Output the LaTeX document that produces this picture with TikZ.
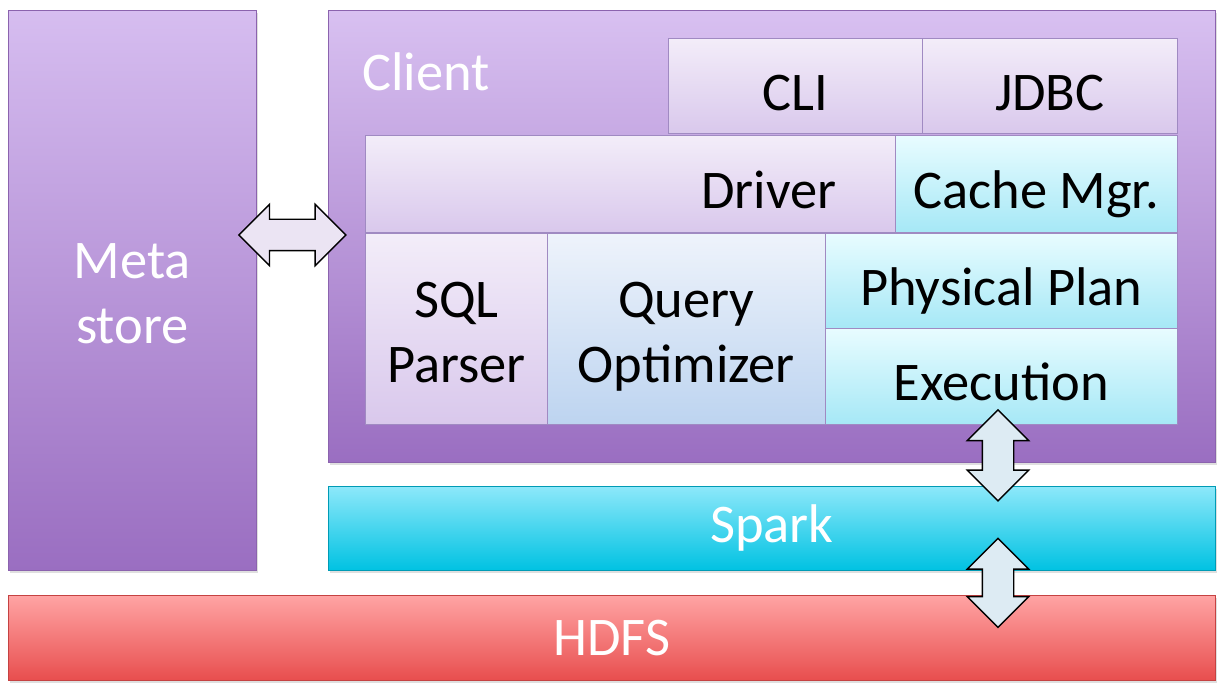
\documentclass[tikz,border=0pt]{standalone}
\usepackage{fontspec}
\setmainfont{Carlito}
\usetikzlibrary{positioning,calc,shapes.arrows,shadows}

\definecolor{metatop}{HTML}{D6BDF0}
\definecolor{metabot}{HTML}{9A6EC1}
\definecolor{clitop}{HTML}{F3EDF9}
\definecolor{clibot}{HTML}{D9C8EC}
\definecolor{cyantop}{HTML}{E8FCFF}
\definecolor{cyanbot}{HTML}{A6E8F6}
\definecolor{opttop}{HTML}{EEF3FB}
\definecolor{optbot}{HTML}{BDD4F0}
\definecolor{sparktop}{HTML}{8DE8FA}
\definecolor{sparkbot}{HTML}{00C2E2}
\definecolor{hdfstop}{HTML}{FFA4A4}
\definecolor{hdfsbot}{HTML}{E84E4E}
\definecolor{edgepurple}{HTML}{A08AC2}
\definecolor{arrowblue}{HTML}{DDEBF3}
\definecolor{arrowlilac}{HTML}{EBE4F3}

\begin{document}
\begin{tikzpicture}[x=0.02cm, y=-0.02cm, font=\fontsize{31}{37}\selectfont]
    \tikzstyle{layer}=[draw, anchor=north west, inner sep=0pt, align=center]
    \tikzstyle{sunk}=[execute at begin node={\rule[-8pt]{0pt}{44pt}}, execute at end node={\rule[-8pt]{0pt}{8pt}}]
    \tikzstyle{sunktwo}=[execute at begin node={\rule[-8pt]{0pt}{77pt}}, execute at end node={\rule[-8pt]{0pt}{8pt}}]
    \tikzstyle{outer}=[layer, text=white, drop shadow={opacity=0.25, shadow xshift=0.04cm, shadow yshift=-0.05cm}]
    \tikzstyle{lilac}=[layer, sunk, draw=edgepurple, top color=clitop, bottom color=clibot, text=black]
    \tikzstyle{aqua}=[layer, sunk, draw=edgepurple, top color=cyantop, bottom color=cyanbot, text=black]
    \tikzstyle{bigarrow}=[double arrow, draw=black, thick, inner xsep=0pt, inner ysep=0.3cm, minimum width=1.2cm, double arrow head extend=0.3cm]
    \useasboundingbox (0,0) rectangle (1226,688);
    % outer layers
    \node[outer, sunktwo, draw=metabot!90!black, top color=metatop, bottom color=metabot,
          minimum width=4.96cm, minimum height=11.2cm] (meta) at (8,10) {Meta\\store};
    \node[outer, draw=metabot!90!black, top color=metatop!95!white, bottom color=metabot,
          minimum width=17.74cm, minimum height=9.04cm] (client) at (328,10) {};
    \node[outer, draw=sparkbot!80!black, top color=sparktop, bottom color=sparkbot,
          minimum width=17.74cm, minimum height=1.68cm] (spark) at (328,486) {Spark};
    \node[outer, draw=hdfsbot!85!black, top color=hdfstop, bottom color=hdfsbot,
          minimum width=24.14cm, minimum height=1.7cm] (hdfs) at (8,595) {HDFS};
    \node[text=white, anchor=west, inner sep=0pt] (clientlbl) at (362,72) {Client};
    % client parts
    \node[lilac, minimum width=5.08cm, minimum height=1.9cm] (cli) at (668,38) {CLI};
    \node[lilac, minimum width=5.1cm, minimum height=1.9cm] (jdbc) at (922,38) {JDBC};
    \node[lilac, minimum width=10.6cm, minimum height=1.94cm, text width=8.24cm,
          inner xsep=1.18cm, align=right] (driver) at (365,135) {Driver};
    \node[aqua, minimum width=5.64cm, minimum height=1.94cm] (cache) at (895,135) {Cache Mgr.};
    \node[lilac, sunktwo, minimum width=3.64cm, minimum height=3.82cm] (sqlp) at (365,233) {SQL\\Parser};
    \node[layer, sunktwo, draw=edgepurple, top color=opttop, bottom color=optbot,
          minimum width=5.56cm, minimum height=3.82cm] (qopt) at (547,233) {Query\\Optimizer};
    \node[aqua, minimum width=7.04cm, minimum height=1.9cm] (pplan) at (825,233) {Physical Plan};
    \node[aqua, minimum width=7.04cm, minimum height=1.92cm] (exec) at (825,328) {Execution};
    % block arrows
    \node[bigarrow, fill=arrowlilac, minimum height=2.14cm] (metalink)
        at ($(meta.east |- 0,235)!0.5!(client.west |- 0,235)$) {};
    \node[bigarrow, fill=arrowblue, rotate=90, minimum height=1.82cm] (execlink)
        at ($(exec.south -| 998,0)!0.5!(spark.north -| 998,0)$) {};
    \node[bigarrow, fill=arrowblue, rotate=90, minimum height=1.78cm] (sparklink)
        at ($(spark.south -| 998,0)!0.5!(hdfs.north -| 998,0)$) {};
\end{tikzpicture}
\end{document}
